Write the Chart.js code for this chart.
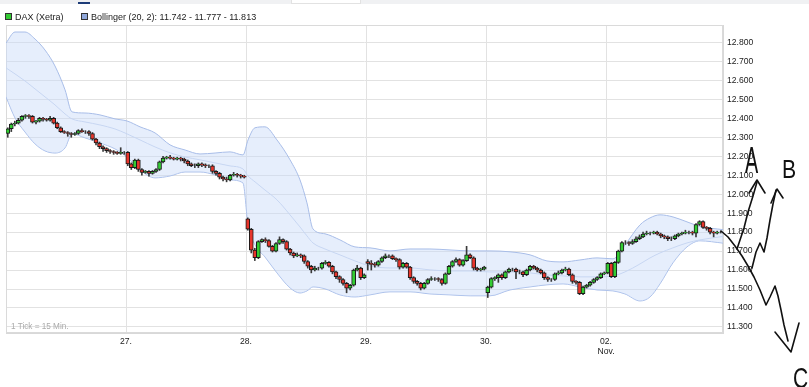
<!DOCTYPE html>
<html>
<head>
<meta charset="utf-8">
<script src="https://cdn.jsdelivr.net/npm/chart.js@4/dist/chart.umd.min.js"></script>
<style>
  html, body { margin: 0; padding: 0; background: #fff; }
  #wrap { position: relative; width: 809px; height: 387px; overflow: hidden; font-family: 'Liberation Sans', Arial, sans-serif; }
  #chart { position: absolute; left: 0; top: 0; }
  .topbar { position: absolute; left: 0; top: 0; width: 809px; height: 4px; background: #f0f1f3; }
  .tabline { position: absolute; left: 78px; top: 2px; width: 12px; height: 2px; background: #1d3c78; }
  .topbox { position: absolute; left: 291px; top: 0; width: 68px; height: 3px; background: #fff; border: 1px solid #e2e2e2; border-top: none; }
  .legend { position: absolute; top: 11px; left: 5px; font-size: 9px; color: #222; white-space: nowrap; z-index: 2; }
  .legend span { display: inline-block; vertical-align: middle; }
  .sq { width: 5px; height: 5px; border: 1px solid #333; margin-right: 3px; }
  .note { position: absolute; left: 11px; top: 322px; font-size: 8.2px; color: #aaa; z-index: 2; }
  .hand { position: absolute; color: #111; line-height: 1; transform-origin: left top; z-index: 2; }
</style>
</head>
<body>
<div id="wrap">
  <div class="topbar"></div><div class="tabline"></div><div class="topbox"></div>
  <canvas id="chart" width="809" height="387"></canvas>
  <div class="legend">
    <span class="sq" style="background:#33cc33"></span><span style="margin-right:15px">DAX (Xetra)</span>
    <span class="sq" style="background:#90a8da"></span><span>Bollinger (20, 2): 11.742 - 11.777 - 11.813</span>
  </div>
  <div class="note">1 Tick = 15 Min.</div>
  <span class="hand" style="left:745px;top:143px;font-size:36px;transform:scaleX(0.55)">A</span>
  <span class="hand" style="left:782px;top:157px;font-size:25px;transform:scaleX(0.85)">B</span>
  <span class="hand" style="left:793px;top:363px;font-size:30px;transform:scaleX(0.7)">C</span>
</div>
<script>
// trading days on the x axis, 15 min candles
const dayLabels = ['26.', '27.', '28.', '29.', '30.', '02.'];
const monthLabel = 'Nov.';
const ticksPerDay = 34;
const priceTicks = [11.3, 11.4, 11.5, 11.6, 11.7, 11.8, 11.9, 12.0, 12.1, 12.2, 12.3, 12.4, 12.5, 12.6, 12.7, 12.8];
const dayOpens = [12.32, 12.22, 11.87, 11.645, 11.48, 11.585];

const close26 = [12.345, 12.37, 12.375, 12.39, 12.41, 12.415, 12.41, 12.38, 12.385, 12.40, 12.395, 12.39, 12.40, 12.375, 12.35, 12.33, 12.325, 12.32, 12.315, 12.32, 12.335, 12.33, 12.33, 12.32, 12.29, 12.27, 12.25, 12.24, 12.23, 12.225, 12.22, 12.215, 12.22, 12.22];
const high26 = [12.35, 12.375, 12.385, 12.40, 12.415, 12.42, 12.42, 12.415, 12.39, 12.405, 12.405, 12.40, 12.41, 12.405, 12.38, 12.355, 12.335, 12.33, 12.325, 12.325, 12.34, 12.345, 12.335, 12.335, 12.325, 12.295, 12.275, 12.255, 12.245, 12.235, 12.23, 12.225, 12.245, 12.225];
const low26 = [12.30, 12.33, 12.36, 12.37, 12.385, 12.40, 12.40, 12.375, 12.37, 12.38, 12.385, 12.385, 12.385, 12.37, 12.345, 12.325, 12.32, 12.305, 12.30, 12.31, 12.315, 12.325, 12.32, 12.31, 12.285, 12.26, 12.24, 12.225, 12.22, 12.215, 12.21, 12.21, 12.21, 12.21];

const close27 = [12.16, 12.14, 12.18, 12.13, 12.115, 12.12, 12.11, 12.12, 12.13, 12.17, 12.19, 12.195, 12.19, 12.185, 12.19, 12.185, 12.175, 12.16, 12.15, 12.15, 12.16, 12.155, 12.15, 12.15, 12.12, 12.11, 12.09, 12.08, 12.075, 12.10, 12.105, 12.10, 12.095, 12.09];
const high27 = [12.225, 12.165, 12.185, 12.185, 12.135, 12.125, 12.125, 12.125, 12.135, 12.175, 12.20, 12.20, 12.205, 12.195, 12.195, 12.195, 12.19, 12.18, 12.165, 12.16, 12.165, 12.165, 12.16, 12.155, 12.155, 12.125, 12.115, 12.095, 12.09, 12.105, 12.115, 12.11, 12.105, 12.10];
const low27 = [12.15, 12.13, 12.135, 12.12, 12.10, 12.11, 12.095, 12.105, 12.115, 12.125, 12.165, 12.185, 12.185, 12.18, 12.18, 12.175, 12.165, 12.15, 12.145, 12.14, 12.14, 12.145, 12.14, 12.14, 12.11, 12.10, 12.08, 12.07, 12.065, 12.07, 12.095, 12.09, 12.085, 12.085];

const close28 = [11.815, 11.705, 11.665, 11.75, 11.76, 11.755, 11.725, 11.70, 11.74, 11.76, 11.75, 11.71, 11.69, 11.675, 11.68, 11.675, 11.645, 11.62, 11.60, 11.61, 11.61, 11.635, 11.64, 11.62, 11.59, 11.565, 11.55, 11.53, 11.505, 11.52, 11.60, 11.61, 11.56, 11.575];
const high28 = [11.875, 11.82, 11.715, 11.755, 11.765, 11.77, 11.76, 11.73, 11.745, 11.775, 11.765, 11.755, 11.715, 11.695, 11.69, 11.685, 11.68, 11.65, 11.625, 11.62, 11.615, 11.64, 11.65, 11.645, 11.625, 11.595, 11.57, 11.555, 11.535, 11.525, 11.605, 11.625, 11.615, 11.58];
const low28 = [11.81, 11.69, 11.65, 11.66, 11.745, 11.745, 11.72, 11.695, 11.695, 11.735, 11.74, 11.705, 11.68, 11.665, 11.67, 11.665, 11.635, 11.61, 11.585, 11.595, 11.60, 11.605, 11.63, 11.615, 11.58, 11.555, 11.535, 11.52, 11.48, 11.495, 11.515, 11.595, 11.55, 11.555];

const close29 = [11.635, 11.63, 11.625, 11.645, 11.665, 11.675, 11.675, 11.66, 11.655, 11.615, 11.635, 11.615, 11.56, 11.54, 11.53, 11.505, 11.53, 11.55, 11.555, 11.555, 11.55, 11.53, 11.58, 11.62, 11.645, 11.655, 11.625, 11.65, 11.68, 11.665, 11.61, 11.60, 11.605, 11.615];
const high29 = [11.655, 11.65, 11.64, 11.65, 11.67, 11.685, 11.68, 11.68, 11.665, 11.66, 11.64, 11.64, 11.62, 11.565, 11.545, 11.535, 11.535, 11.555, 11.565, 11.56, 11.56, 11.555, 11.585, 11.625, 11.65, 11.665, 11.66, 11.655, 11.725, 11.685, 11.67, 11.615, 11.61, 11.62];
const low29 = [11.60, 11.60, 11.615, 11.62, 11.64, 11.66, 11.665, 11.655, 11.645, 11.605, 11.61, 11.61, 11.55, 11.53, 11.52, 11.495, 11.50, 11.525, 11.545, 11.545, 11.54, 11.52, 11.525, 11.575, 11.615, 11.64, 11.62, 11.62, 11.645, 11.66, 11.60, 11.595, 11.595, 11.60];

const close30 = [11.51, 11.555, 11.56, 11.575, 11.56, 11.59, 11.605, 11.605, 11.59, 11.59, 11.575, 11.60, 11.62, 11.61, 11.60, 11.585, 11.56, 11.55, 11.55, 11.58, 11.585, 11.60, 11.605, 11.575, 11.54, 11.535, 11.475, 11.51, 11.52, 11.535, 11.55, 11.56, 11.58, 11.585];
const high30 = [11.515, 11.56, 11.565, 11.58, 11.58, 11.595, 11.61, 11.61, 11.61, 11.60, 11.595, 11.605, 11.625, 11.625, 11.615, 11.605, 11.59, 11.565, 11.555, 11.585, 11.595, 11.605, 11.615, 11.61, 11.58, 11.545, 11.54, 11.515, 11.525, 11.54, 11.555, 11.565, 11.585, 11.59];
const low30 = [11.455, 11.505, 11.545, 11.535, 11.55, 11.555, 11.585, 11.595, 11.555, 11.58, 11.565, 11.57, 11.595, 11.605, 11.59, 11.58, 11.55, 11.54, 11.54, 11.545, 11.575, 11.58, 11.595, 11.57, 11.53, 11.525, 11.47, 11.47, 11.505, 11.515, 11.53, 11.545, 11.555, 11.575];

const close02 = [11.635, 11.565, 11.64, 11.70, 11.745, 11.745, 11.74, 11.75, 11.765, 11.775, 11.79, 11.795, 11.795, 11.80, 11.79, 11.78, 11.775, 11.765, 11.765, 11.78, 11.79, 11.795, 11.80, 11.80, 11.795, 11.84, 11.855, 11.825, 11.82, 11.80, 11.795, 11.80, 11.80];
const high02 = [11.64, 11.64, 11.645, 11.705, 11.75, 11.755, 11.75, 11.76, 11.775, 11.785, 11.80, 11.805, 11.80, 11.805, 11.805, 11.795, 11.785, 11.78, 11.775, 11.785, 11.795, 11.80, 11.81, 11.805, 11.805, 11.845, 11.86, 11.86, 11.83, 11.825, 11.805, 11.805, 11.805];
const low02 = [11.58, 11.56, 11.56, 11.635, 11.695, 11.735, 11.73, 11.735, 11.745, 11.76, 11.77, 11.785, 11.785, 11.79, 11.785, 11.77, 11.765, 11.755, 11.755, 11.76, 11.775, 11.785, 11.79, 11.79, 11.785, 11.775, 11.835, 11.82, 11.81, 11.79, 11.775, 11.79, 11.795];

// Bollinger (20, 2), x in trading days
const bandDays = [0.000, 0.075, 0.158, 0.242, 0.325, 0.408, 0.492, 0.550, 0.658, 0.783, 0.908, 1.008, 1.117, 1.242, 1.367, 1.492, 1.617, 1.742, 1.867, 1.975, 2.017, 2.075, 2.158, 2.258, 2.367, 2.450, 2.508, 2.558, 2.658, 2.783, 2.908, 3.033, 3.200, 3.367, 3.533, 3.700, 3.867, 4.033, 4.200, 4.367, 4.508, 4.642, 4.783, 4.925, 5.058, 5.158, 5.283, 5.367, 5.450, 5.558, 5.675, 5.783, 5.975];
const bandUpper = [12.797, 12.855, 12.855, 12.818, 12.760, 12.676, 12.550, 12.434, 12.428, 12.418, 12.397, 12.386, 12.355, 12.323, 12.260, 12.233, 12.212, 12.217, 12.223, 12.207, 12.286, 12.350, 12.355, 12.286, 12.181, 12.075, 11.954, 11.817, 11.791, 11.759, 11.722, 11.717, 11.701, 11.711, 11.711, 11.706, 11.701, 11.701, 11.696, 11.680, 11.648, 11.643, 11.653, 11.664, 11.659, 11.732, 11.838, 11.875, 11.891, 11.880, 11.854, 11.830, 11.813];
const bandMiddle = [12.666, 12.634, 12.597, 12.555, 12.513, 12.471, 12.423, 12.397, 12.381, 12.365, 12.344, 12.318, 12.286, 12.249, 12.218, 12.196, 12.181, 12.165, 12.149, 12.133, 12.096, 12.065, 12.022, 11.970, 11.891, 11.827, 11.780, 11.743, 11.711, 11.680, 11.648, 11.622, 11.611, 11.611, 11.601, 11.595, 11.595, 11.590, 11.590, 11.585, 11.574, 11.569, 11.564, 11.564, 11.569, 11.590, 11.632, 11.664, 11.690, 11.717, 11.743, 11.759, 11.777];
const bandLower = [12.513, 12.402, 12.328, 12.265, 12.228, 12.217, 12.244, 12.318, 12.297, 12.270, 12.239, 12.196, 12.128, 12.086, 12.096, 12.117, 12.117, 12.102, 12.075, 12.059, 11.838, 11.733, 11.669, 11.585, 11.506, 11.479, 11.490, 11.511, 11.501, 11.469, 11.458, 11.469, 11.485, 11.485, 11.474, 11.469, 11.464, 11.464, 11.495, 11.511, 11.522, 11.527, 11.511, 11.495, 11.490, 11.474, 11.437, 11.458, 11.527, 11.638, 11.722, 11.754, 11.742];

const closes = [close26, close27, close28, close29, close30, close02];
const highs = [high26, high27, high28, high29, high30, high02];
const lows = [low26, low27, low28, low29, low30, low02];

const bodies = [];
const wicks = [];
const bodyColors = [];
closes.forEach((dayCloses, d) => {
  dayCloses.forEach((c, k) => {
    const o = k === 0 ? dayOpens[d] : dayCloses[k - 1];
    const x = d + (k + 0.5) / ticksPerDay;
    bodies.push({ x: x, y: [o, c] });
    wicks.push({ x: x, y: [lows[d][k], highs[d][k]] });
    bodyColors.push(c >= o ? '#33cc33' : '#e8352b');
  });
});

const band = (arr) => arr.map((v, i) => ({ x: bandDays[i], y: v }));

// freehand annotation drawn over the right margin
const handPaths = [
  [[721, 231], [728, 237], [735, 246], [742, 256], [748, 266], [754, 277], [760, 290], [766, 305], [770, 297], [775, 286], [778, 296], [781, 310], [784, 325], [788, 341]],
  [[775, 332], [791, 352], [799, 323]],
  [[757, 182], [753, 196], [748, 212], [744, 228], [737, 249]],
  [[776, 190], [773, 204], [770, 220], [767, 238], [764, 252], [760, 243], [756, 252], [752, 268]],
  [[749, 193], [757, 180], [765, 193]],
  [[771, 203], [777, 189], [783, 198]]
];

const framePlugin = {
  id: 'frame',
  beforeDatasetsDraw(chart) {
    const { left, top, right, bottom } = chart.chartArea;
    const c = chart.ctx;
    c.save();
    c.strokeStyle = '#dadada';
    c.lineWidth = 1;
    c.strokeRect(left + 0.5, top + 0.5, right - left - 1, bottom - top - 1);
    c.restore();
  }
};

const scribblePlugin = {
  id: 'scribble',
  afterDraw(chart) {
    const c = chart.ctx;
    c.save();
    c.strokeStyle = '#111';
    c.lineWidth = 1.6;
    c.lineJoin = 'round';
    c.lineCap = 'round';
    handPaths.forEach(p => {
      c.beginPath();
      p.forEach(([x, y], i) => i ? c.lineTo(x, y) : c.moveTo(x, y));
      c.stroke();
    });
    c.restore();
  }
};

const tickFont = { family: "'Liberation Sans', Arial, sans-serif", size: 8.6 };

new Chart(document.getElementById('chart').getContext('2d'), {
  type: 'bar',
  data: {
    datasets: [
      {
        type: 'bar', label: 'body', data: bodies,
        backgroundColor: bodyColors, borderColor: '#1a1a1a', borderWidth: 1,
        borderSkipped: false, barThickness: 4, grouped: false, order: 0
      },
      {
        type: 'bar', label: 'wick', data: wicks,
        backgroundColor: '#3a3a3a', borderWidth: 0, barThickness: 1, grouped: false, order: 1
      },
      {
        type: 'line', label: 'upper', data: band(bandUpper),
        borderColor: '#a8bde8', borderWidth: 1, pointRadius: 0,
        cubicInterpolationMode: 'monotone',
        fill: '+2', backgroundColor: 'rgba(200,217,248,0.45)', order: 3
      },
      {
        type: 'line', label: 'middle', data: band(bandMiddle),
        borderColor: '#c7d6f2', borderWidth: 1, pointRadius: 0,
        cubicInterpolationMode: 'monotone', fill: false, order: 2
      },
      {
        type: 'line', label: 'lower', data: band(bandLower),
        borderColor: '#a8bde8', borderWidth: 1, pointRadius: 0,
        cubicInterpolationMode: 'monotone', fill: false, order: 4
      }
    ]
  },
  options: {
    responsive: false,
    animation: false,
    devicePixelRatio: 1,
    layout: { padding: { left: 6, top: 25, right: 0, bottom: 0 } },
    plugins: { legend: { display: false }, tooltip: { enabled: false } },
    scales: {
      x: {
        type: 'linear', min: 0, max: 5.975, offset: false,
        afterBuildTicks: s => { s.ticks = [1, 2, 3, 4, 5].map(v => ({ value: v })); },
        afterFit: s => { s.height = 54; },
        ticks: {
          autoSkip: false, maxRotation: 0, padding: 3, color: '#222', font: tickFont,
          callback: v => {
            const i = Math.round(v);
            return i === dayLabels.length - 1 ? [dayLabels[i], monthLabel] : dayLabels[i];
          }
        },
        grid: { color: '#e2e2e2', drawTicks: false, offset: false },
        border: { display: true, color: '#d8d8d8' }
      },
      y: {
        type: 'linear', position: 'right', min: 11.268, max: 12.892,
        afterBuildTicks: s => { s.ticks = priceTicks.map(v => ({ value: v })); },
        afterFit: s => { s.width = 86; },
        ticks: { padding: 4, color: '#222', font: tickFont, callback: v => v.toFixed(3) },
        grid: { color: '#e2e2e2', drawTicks: false },
        border: { display: true, color: '#d8d8d8' }
      }
    }
  },
  plugins: [framePlugin, scribblePlugin]
});
</script>
</body>
</html>
